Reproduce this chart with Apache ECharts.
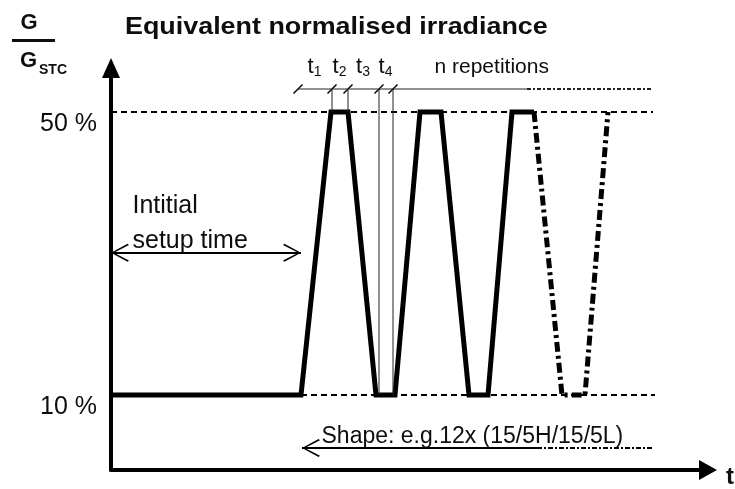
<!DOCTYPE html>
<html>
<head>
<meta charset="utf-8">
<title>Equivalent normalised irradiance</title>
<script src="https://cdn.jsdelivr.net/npm/echarts@6/dist/echarts.min.js"></script>
<style>
    html, body { margin: 0; padding: 0; background: #fff; }
    #main { width: 735px; height: 489px; }
</style>
</head>
<body>
<div id="main"></div>
<script>
// irradiance levels shown on the y axis (% of G_STC)
var levels = [10, 50];

// waveform, solid part (time units, %)
var waveT = [0, 190, 220, 237, 265, 284, 309, 330, 358, 377, 401, 423];
var waveG = [10, 10, 50, 50, 10, 10, 50, 50, 10, 10, 50, 50];
// waveform, dash-dot continuation
var moreT = [423, 451, 474, 497];
var moreG = [50, 10, 10, 50];

// dashed high / low reference lines
var highT = [0, 542];
var lowT = [190, 544];

// t1..t4 dimension line
var markT = [187, 221, 237, 268, 282];
var markDrop = [50, 50, 10, 10];
var markNames = ['1', '2', '3', '4'];
var markLevel = 53.25;
var markRun = [187, 416, 541];

// initial setup time arrow
var setupT = [0, 190];
var setupLevel = 30.1;

// shape arrow
var shapeT = [191, 426, 541];
var shapeLevel = 2.5;

var FONT = "'Liberation Sans', Arial, Helvetica, sans-serif";
var INK = '#0d0d12';
var chevron = 'path://M5,0L5.01,0Z M5,10L10,19.2L9.3,20L5,11.6L0.7,20L0,19.2Z';
var slash = 'path://M0,9L9,0L10,1L1,10Z';

function pairs(xs, ys) {
    return xs.map(function (x, i) { return [x, ys[i]]; });
}

function plainLine(data, width, type, color) {
    return {
        type: 'line',
        data: data,
        symbol: 'none',
        silent: true,
        lineStyle: { color: color || '#000', width: width, type: type, cap: 'butt', join: 'miter' }
    };
}

var series = [];
// level lines
series.push(plainLine([[highT[0], levels[1]], [highT[1], levels[1]]], 2, [6, 4]));
series.push(plainLine([[lowT[0], levels[0]], [lowT[1], levels[0]]], 2, [6, 4]));

// waveform + arrows (markLine)
var wave = plainLine(pairs(waveT, waveG), 5, 'solid');
wave.markLine = {
    silent: true,
    animation: false,
    label: { show: false },
    lineStyle: { color: '#000', width: 2, type: 'solid' },
    data: [
        [
            { coord: [setupT[0], setupLevel], symbol: chevron, symbolSize: [18, 36] },
            { coord: [setupT[1], setupLevel], symbol: chevron, symbolSize: [18, 36] }
        ],
        [
            { coord: [shapeT[0], shapeLevel], symbol: chevron, symbolSize: [18, 36] },
            { coord: [shapeT[1], shapeLevel], symbol: 'none' }
        ]
    ]
};
series.push(wave);
series.push(plainLine(pairs(moreT, moreG), 5, [10, 4, 3, 4]));

// shape arrow tail
series.push(plainLine([[shapeT[1], shapeLevel], [shapeT[2], shapeLevel]], 2, [5, 2, 2, 2]));

// t dimension line
series.push(plainLine([[markRun[0], markLevel], [markRun[1], markLevel]], 1, 'solid', '#222'));
series.push(plainLine([[markRun[1], markLevel], [markRun[2], markLevel]], 2, [4, 2, 2, 2], '#222'));
markDrop.forEach(function (g, i) {
    var t = markT[i + 1];
    series.push(plainLine([[t, markLevel], [t, g]], 1, 'solid', '#222'));
});
series.push({
    type: 'scatter',
    silent: true,
    symbol: slash,
    symbolSize: 10,
    itemStyle: { color: '#000', opacity: 1 },
    data: markT.map(function (t) { return [t, markLevel]; })
});

// texts tied to the data
var textLabel = {
    show: true,
    position: [0, 0],
    align: 'left',
    verticalAlign: 'middle',
    color: INK,
    opacity: 1,
    fontFamily: FONT
};
var textData = [];
markNames.forEach(function (n, i) {
    textData.push({
        value: [(markT[i] + markT[i + 1]) / 2, 56.36],
        label: {
            align: 'center',
            formatter: '{t|t}{s|' + n + '}',
            rich: {
                t: { fontSize: 22, fontFamily: FONT, color: INK, lineHeight: 26, verticalAlign: 'middle' },
                s: { fontSize: 14, fontFamily: FONT, color: INK, lineHeight: 26, verticalAlign: 'bottom' }
            }
        }
    });
});
textData.push({ value: [324, 56.2], label: { formatter: 'n repetitions', fontSize: 21 } });
textData.push({ value: [22, 34.1], label: { formatter: 'Intitial\nsetup time', fontSize: 25, lineHeight: 35 } });
textData.push({ value: [211, 4.06], label: { formatter: 'Shape: e.g.12x (15/5H/15/5L)', fontSize: 23 } });

series.push({
    type: 'scatter',
    silent: true,
    clip: false,
    symbolSize: 1,
    itemStyle: { color: 'rgba(0,0,0,0)', opacity: 1 },
    label: textLabel,
    data: textData
});

var myChart = echarts.init(document.getElementById('main'));
myChart.setOption({
    animation: false,
    backgroundColor: '#fff',
    grid: { left: 111, right: 27, top: 68, bottom: 19 },
    xAxis: {
        type: 'value',
        min: 0,
        max: 597,
        axisLine: {
            onZero: false,
            symbol: ['none', 'triangle'],
            symbolSize: [20, 18],
            lineStyle: { color: '#000', width: 4 }
        },
        axisTick: { show: false },
        axisLabel: { show: false },
        splitLine: { show: false }
    },
    yAxis: {
        type: 'value',
        min: -0.6,
        max: 56.22,
        axisLine: {
            show: true,
            onZero: false,
            symbol: ['none', 'triangle'],
            symbolSize: [18, 20],
            lineStyle: { color: '#000', width: 4 }
        },
        axisTick: { show: false },
        splitLine: { show: false },
        axisLabel: {
            customValues: levels,
            formatter: '{value} %',
            fontSize: 25,
            fontFamily: FONT,
            color: INK,
            margin: 14,
            verticalAlign: 'top'
        }
    },
    graphic: [
        {
            type: 'text', x: 125, y: 27, scaleX: 1.12,
            style: { text: 'Equivalent normalised irradiance', font: 'bold 24px ' + FONT, fill: INK, align: 'left', verticalAlign: 'middle' }
        },
        {
            type: 'text', x: 29, y: 23,
            style: { text: 'G', font: 'bold 22px ' + FONT, fill: INK, align: 'center', verticalAlign: 'middle' }
        },
        { type: 'rect', shape: { x: 12, y: 39, width: 43, height: 3 }, style: { fill: INK } },
        {
            type: 'text', x: 20, y: 61,
            style: { text: 'G', font: 'bold 22px ' + FONT, fill: INK, align: 'left', verticalAlign: 'middle' }
        },
        {
            type: 'text', x: 39, y: 70,
            style: { text: 'STC', font: 'bold 14px ' + FONT, fill: INK, align: 'left', verticalAlign: 'middle' }
        },
        {
            type: 'text', x: 726, y: 477,
            style: { text: 't', font: 'bold 24px ' + FONT, fill: INK, align: 'left', verticalAlign: 'middle' }
        }
    ],
    series: series
});
</script>
</body>
</html>
